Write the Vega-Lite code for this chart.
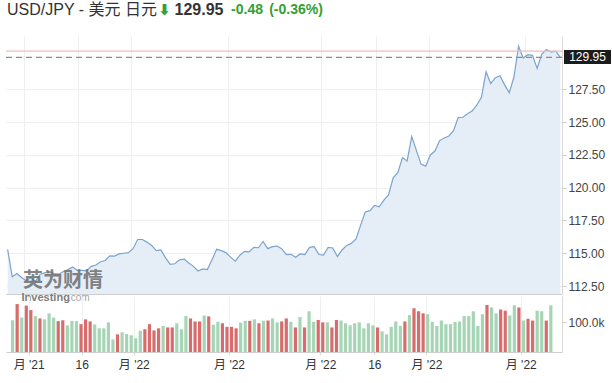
{
  "$schema": "https://vega.github.io/schema/vega-lite/v6.json",
  "background": "#ffffff",
  "padding": {"left": 5, "top": 0, "right": 0, "bottom": 0},
  "config": {"view": {"stroke": null}, "font": "Liberation Sans"},
  "datasets": {
    "fx": [
      {"i":0,"p":115.30,"v":106000,"dir":"up"},
      {"i":1,"p":113.20,"v":160000,"dir":"down"},
      {"i":2,"p":113.45,"v":115000,"dir":"up"},
      {"i":3,"p":113.15,"v":155000,"dir":"down"},
      {"i":4,"p":112.90,"v":140000,"dir":"down"},
      {"i":5,"p":113.15,"v":120000,"dir":"up"},
      {"i":6,"p":112.85,"v":112000,"dir":"down"},
      {"i":7,"p":113.40,"v":109000,"dir":"up"},
      {"i":8,"p":113.50,"v":129000,"dir":"up"},
      {"i":9,"p":113.60,"v":115000,"dir":"up"},
      {"i":10,"p":113.45,"v":103000,"dir":"down"},
      {"i":11,"p":113.40,"v":106000,"dir":"down"},
      {"i":12,"p":113.60,"v":89000,"dir":"up"},
      {"i":13,"p":113.75,"v":104000,"dir":"up"},
      {"i":14,"p":113.95,"v":103000,"dir":"up"},
      {"i":15,"p":113.70,"v":93000,"dir":"down"},
      {"i":16,"p":113.70,"v":109000,"dir":"down"},
      {"i":17,"p":113.65,"v":102000,"dir":"down"},
      {"i":18,"p":114.00,"v":92000,"dir":"up"},
      {"i":19,"p":114.10,"v":79000,"dir":"up"},
      {"i":20,"p":114.35,"v":79000,"dir":"up"},
      {"i":21,"p":114.45,"v":99000,"dir":"up"},
      {"i":22,"p":114.80,"v":42000,"dir":"up"},
      {"i":23,"p":114.78,"v":59000,"dir":"down"},
      {"i":24,"p":114.95,"v":66000,"dir":"up"},
      {"i":25,"p":115.00,"v":60000,"dir":"up"},
      {"i":26,"p":115.05,"v":56000,"dir":"up"},
      {"i":27,"p":115.35,"v":46000,"dir":"up"},
      {"i":28,"p":116.05,"v":71000,"dir":"up"},
      {"i":29,"p":116.05,"v":76000,"dir":"down"},
      {"i":30,"p":115.85,"v":93000,"dir":"down"},
      {"i":31,"p":115.60,"v":72000,"dir":"down"},
      {"i":32,"p":115.20,"v":79000,"dir":"down"},
      {"i":33,"p":115.25,"v":87000,"dir":"up"},
      {"i":34,"p":114.65,"v":82000,"dir":"down"},
      {"i":35,"p":114.15,"v":82000,"dir":"down"},
      {"i":36,"p":114.20,"v":96000,"dir":"up"},
      {"i":37,"p":114.50,"v":76000,"dir":"up"},
      {"i":38,"p":114.55,"v":120000,"dir":"up"},
      {"i":39,"p":114.25,"v":112000,"dir":"down"},
      {"i":40,"p":114.00,"v":102000,"dir":"down"},
      {"i":41,"p":113.65,"v":102000,"dir":"down"},
      {"i":42,"p":113.80,"v":122000,"dir":"up"},
      {"i":43,"p":113.75,"v":119000,"dir":"down"},
      {"i":44,"p":114.50,"v":91000,"dir":"up"},
      {"i":45,"p":115.30,"v":101000,"dir":"up"},
      {"i":46,"p":115.20,"v":96000,"dir":"down"},
      {"i":47,"p":115.05,"v":84000,"dir":"down"},
      {"i":48,"p":114.70,"v":84000,"dir":"down"},
      {"i":49,"p":114.40,"v":79000,"dir":"down"},
      {"i":50,"p":114.85,"v":98000,"dir":"up"},
      {"i":51,"p":115.15,"v":104000,"dir":"up"},
      {"i":52,"p":115.10,"v":104000,"dir":"down"},
      {"i":53,"p":115.45,"v":109000,"dir":"up"},
      {"i":54,"p":115.42,"v":96000,"dir":"down"},
      {"i":55,"p":115.90,"v":104000,"dir":"up"},
      {"i":56,"p":115.35,"v":105000,"dir":"down"},
      {"i":57,"p":115.50,"v":112000,"dir":"up"},
      {"i":58,"p":115.55,"v":99000,"dir":"up"},
      {"i":59,"p":115.35,"v":102000,"dir":"down"},
      {"i":60,"p":114.90,"v":112000,"dir":"down"},
      {"i":61,"p":114.92,"v":101000,"dir":"up"},
      {"i":62,"p":114.70,"v":82000,"dir":"down"},
      {"i":63,"p":114.95,"v":117000,"dir":"up"},
      {"i":64,"p":114.90,"v":82000,"dir":"down"},
      {"i":65,"p":115.45,"v":136000,"dir":"up"},
      {"i":66,"p":115.50,"v":101000,"dir":"up"},
      {"i":67,"p":114.90,"v":107000,"dir":"down"},
      {"i":68,"p":114.85,"v":99000,"dir":"down"},
      {"i":69,"p":115.45,"v":99000,"dir":"up"},
      {"i":70,"p":115.40,"v":82000,"dir":"down"},
      {"i":71,"p":114.75,"v":107000,"dir":"down"},
      {"i":72,"p":115.25,"v":105000,"dir":"up"},
      {"i":73,"p":115.60,"v":96000,"dir":"up"},
      {"i":74,"p":115.75,"v":89000,"dir":"up"},
      {"i":75,"p":116.10,"v":96000,"dir":"up"},
      {"i":76,"p":117.15,"v":99000,"dir":"up"},
      {"i":77,"p":118.15,"v":79000,"dir":"up"},
      {"i":78,"p":118.25,"v":96000,"dir":"up"},
      {"i":79,"p":118.65,"v":89000,"dir":"up"},
      {"i":80,"p":118.55,"v":82000,"dir":"down"},
      {"i":81,"p":119.05,"v":69000,"dir":"up"},
      {"i":82,"p":119.45,"v":59000,"dir":"up"},
      {"i":83,"p":120.75,"v":84000,"dir":"up"},
      {"i":84,"p":121.15,"v":102000,"dir":"up"},
      {"i":85,"p":122.30,"v":87000,"dir":"up"},
      {"i":86,"p":122.05,"v":102000,"dir":"down"},
      {"i":87,"p":123.90,"v":123000,"dir":"up"},
      {"i":88,"p":122.85,"v":146000,"dir":"down"},
      {"i":89,"p":121.80,"v":136000,"dir":"down"},
      {"i":90,"p":121.65,"v":129000,"dir":"down"},
      {"i":91,"p":122.50,"v":126000,"dir":"up"},
      {"i":92,"p":122.80,"v":101000,"dir":"up"},
      {"i":93,"p":123.60,"v":87000,"dir":"up"},
      {"i":94,"p":123.80,"v":105000,"dir":"up"},
      {"i":95,"p":123.95,"v":93000,"dir":"up"},
      {"i":96,"p":124.35,"v":93000,"dir":"up"},
      {"i":97,"p":125.35,"v":100000,"dir":"up"},
      {"i":98,"p":125.38,"v":102000,"dir":"up"},
      {"i":99,"p":125.65,"v":120000,"dir":"up"},
      {"i":100,"p":125.85,"v":120000,"dir":"up"},
      {"i":101,"p":126.30,"v":136000,"dir":"up"},
      {"i":102,"p":126.90,"v":87000,"dir":"up"},
      {"i":103,"p":128.85,"v":126000,"dir":"up"},
      {"i":104,"p":127.95,"v":157000,"dir":"down"},
      {"i":105,"p":128.40,"v":149000,"dir":"up"},
      {"i":106,"p":128.55,"v":129000,"dir":"up"},
      {"i":107,"p":127.85,"v":142000,"dir":"down"},
      {"i":108,"p":127.25,"v":138000,"dir":"down"},
      {"i":109,"p":128.45,"v":122000,"dir":"up"},
      {"i":110,"p":130.80,"v":156000,"dir":"up"},
      {"i":111,"p":129.90,"v":149000,"dir":"down"},
      {"i":112,"p":130.15,"v":105000,"dir":"up"},
      {"i":113,"p":130.10,"v":111000,"dir":"down"},
      {"i":114,"p":129.10,"v":105000,"dir":"down"},
      {"i":115,"p":130.20,"v":138000,"dir":"up"},
      {"i":116,"p":130.55,"v":136000,"dir":"up"},
      {"i":117,"p":130.35,"v":105000,"dir":"down"},
      {"i":118,"p":130.43,"v":156000,"dir":"up"},
      {"i":119,"p":129.95}
    ]
  },
  "spacing": 16,
  "vconcat": [
    {
      "spacing": 0,
      "hconcat": [
        {"width": 152, "height": 20, "data": {"values": [{"t": "USD/JPY - 美元 日元"}]},
         "mark": {"type": "text", "fontSize": 16, "color": "#333333", "align": "center", "baseline": "middle", "font": "Liberation Sans, Noto Sans CJK SC"},
         "encoding": {"text": {"field": "t"}}},
        {"width": 13, "height": 20, "data": {"values": [{"t": "⬇"}]},
         "mark": {"type": "text", "fontSize": 15, "fontWeight": "bold", "color": "#33a033", "align": "center", "baseline": "middle", "font": "DejaVu Sans"},
         "encoding": {"text": {"field": "t"}}},
        {"width": 56, "height": 20, "data": {"values": [{"t": "129.95"}]},
         "mark": {"type": "text", "fontSize": 16, "fontWeight": "bold", "color": "#333333", "align": "center", "baseline": "middle"},
         "encoding": {"text": {"field": "t"}}},
        {"width": 40, "height": 20, "data": {"values": [{"t": "-0.48"}]},
         "mark": {"type": "text", "fontSize": 14, "fontWeight": "bold", "color": "#33a033", "align": "center", "baseline": "middle"},
         "encoding": {"text": {"field": "t"}}},
        {"width": 58, "height": 20, "data": {"values": [{"t": "(-0.36%)"}]},
         "mark": {"type": "text", "fontSize": 14, "fontWeight": "bold", "color": "#33a033", "align": "center", "baseline": "middle"},
         "encoding": {"text": {"field": "t"}}}
      ]
    },
    {
      "spacing": 2,
      "bounds": "flush",
      "vconcat": [
        {
          "width": 556,
          "height": 258,
          "layer": [
            {"data": {"name": "fx"},
             "mark": {"type": "area", "color": "#e5edf6"},
             "encoding": {
               "x": {"field": "i", "type": "quantitative",
                     "scale": {"domain": [-0.35, 119.35], "nice": false, "zero": false},
                     "axis": {"orient": "bottom", "values": [3.53, 15.16, 26.57, 47.45, 67.47, 79.3, 90.72, 111.4], "labels": false, "ticks": false, "domain": true, "domainColor": "#cfcfcf", "grid": true, "gridColor": "#efefef", "title": null}},
               "y": {"field": "p", "type": "quantitative",
                     "scale": {"domain": [111.89, 131.58], "nice": false, "zero": false},
                     "axis": {"orient": "right", "values": [112.5, 115, 117.5, 120, 122.5, 125, 127.5], "format": ".2f", "grid": true, "gridColor": "#efefef", "domainColor": "#d9d9d9", "tickColor": "#cfcfcf", "tickSize": 4, "labelFontSize": 12, "labelColor": "#444444", "labelPadding": 2, "title": null}},
               "y2": {"datum": 111.89}
             }},
            {"data": {"name": "fx"},
             "mark": {"type": "line", "color": "#7ba4cd", "strokeWidth": 1.2},
             "encoding": {
               "x": {"field": "i", "type": "quantitative"},
               "y": {"field": "p", "type": "quantitative"}
             }},
            {"data": {"values": [{"v": 130.43}]}, "mark": {"type": "rule", "color": "#f2bcbc", "strokeWidth": 1.2},
             "encoding": {"y": {"field": "v", "type": "quantitative"}}},
            {"data": {"values": [{"v": 129.95}]}, "mark": {"type": "rule", "color": "#8c8c8c", "strokeDash": [6, 4], "strokeWidth": 1.2},
             "encoding": {"y": {"field": "v", "type": "quantitative"}}},
            {"data": {"values": [{"t": "129.95"}]}, "mark": {"type": "rect", "color": "#1c1c1c", "clip": false},
             "encoding": {"x": {"datum": 119.78, "type": "quantitative"}, "x2": {"datum": 129.9}, "y": {"datum": 130.51, "type": "quantitative"}, "y2": {"datum": 129.44}}},
            {"data": {"values": [{"t": "129.95"}]}, "mark": {"type": "text", "color": "#ffffff", "fontSize": 12, "align": "center", "baseline": "middle", "clip": false},
             "encoding": {"x": {"datum": 124.84, "type": "quantitative"}, "y": {"datum": 129.95, "type": "quantitative"}, "text": {"field": "t"}}},
            {"data": {"values": [{"t": "英为财情"}]}, "mark": {"type": "text", "color": "#6e6e6e", "opacity": 0.85, "fontSize": 20, "fontWeight": "bold", "align": "left", "baseline": "middle", "font": "Noto Sans CJK SC"},
             "encoding": {"x": {"datum": 3.3, "type": "quantitative"}, "y": {"datum": 112.86, "type": "quantitative"}, "text": {"field": "t"}}},
            {"data": {"values": [{"t": "Investing"}]}, "mark": {"type": "text", "color": "#707070", "opacity": 0.9, "fontSize": 11, "fontWeight": "bold", "align": "left", "baseline": "middle"},
             "encoding": {"x": {"datum": 3.0, "type": "quantitative"}, "y": {"datum": 111.62, "type": "quantitative"}, "text": {"field": "t"}}},
            {"data": {"values": [{"t": ".com"}]}, "mark": {"type": "text", "color": "#9a9a9a", "opacity": 0.9, "fontSize": 10, "align": "left", "baseline": "middle"},
             "encoding": {"x": {"datum": 13.0, "type": "quantitative"}, "y": {"datum": 111.62, "type": "quantitative"}, "text": {"field": "t"}}}
          ]
        },
        {
          "width": 556,
          "height": 56,
          "data": {"name": "fx"},
          "mark": {"type": "bar", "width": 3.2},
          "encoding": {
            "x": {"field": "i", "type": "quantitative",
                  "scale": {"domain": [-0.35, 119.35], "nice": false, "zero": false},
                  "axis": {"orient": "bottom", "values": [3.53, 15.16, 26.57, 47.45, 67.47, 79.3, 90.72, 111.4],
                           "labelExpr": "datum.value < 5 ? \"月 '21\" : ((datum.value < 20 || (datum.value > 75 && datum.value < 85)) ? '16' : \"月 '22\")",
                           "grid": true, "gridColor": "#efefef", "domainColor": "#cfcfcf", "tickColor": "#dddddd", "tickSize": 3,
                           "labelFontSize": 12, "labelColor": "#333333", "labelPadding": 4, "labelFlush": false, "labelOverlap": false,
                           "labelFont": "Liberation Sans, Noto Sans CJK SC", "title": null}},
            "y": {"field": "v", "type": "quantitative",
                  "scale": {"domain": [0, 187000], "nice": false},
                  "axis": {"orient": "right", "values": [100000], "labelExpr": "'100.0k'", "grid": false, "domainColor": "#d9d9d9", "tickColor": "#cfcfcf", "tickSize": 4, "labelFontSize": 12, "labelColor": "#444444", "labelPadding": 2, "title": null}},
            "color": {"field": "dir", "type": "nominal", "scale": {"domain": ["down", "up"], "range": ["#d86c6c", "#a6d5b5"]}, "legend": null}
          }
        }
      ]
    }
  ]
}
